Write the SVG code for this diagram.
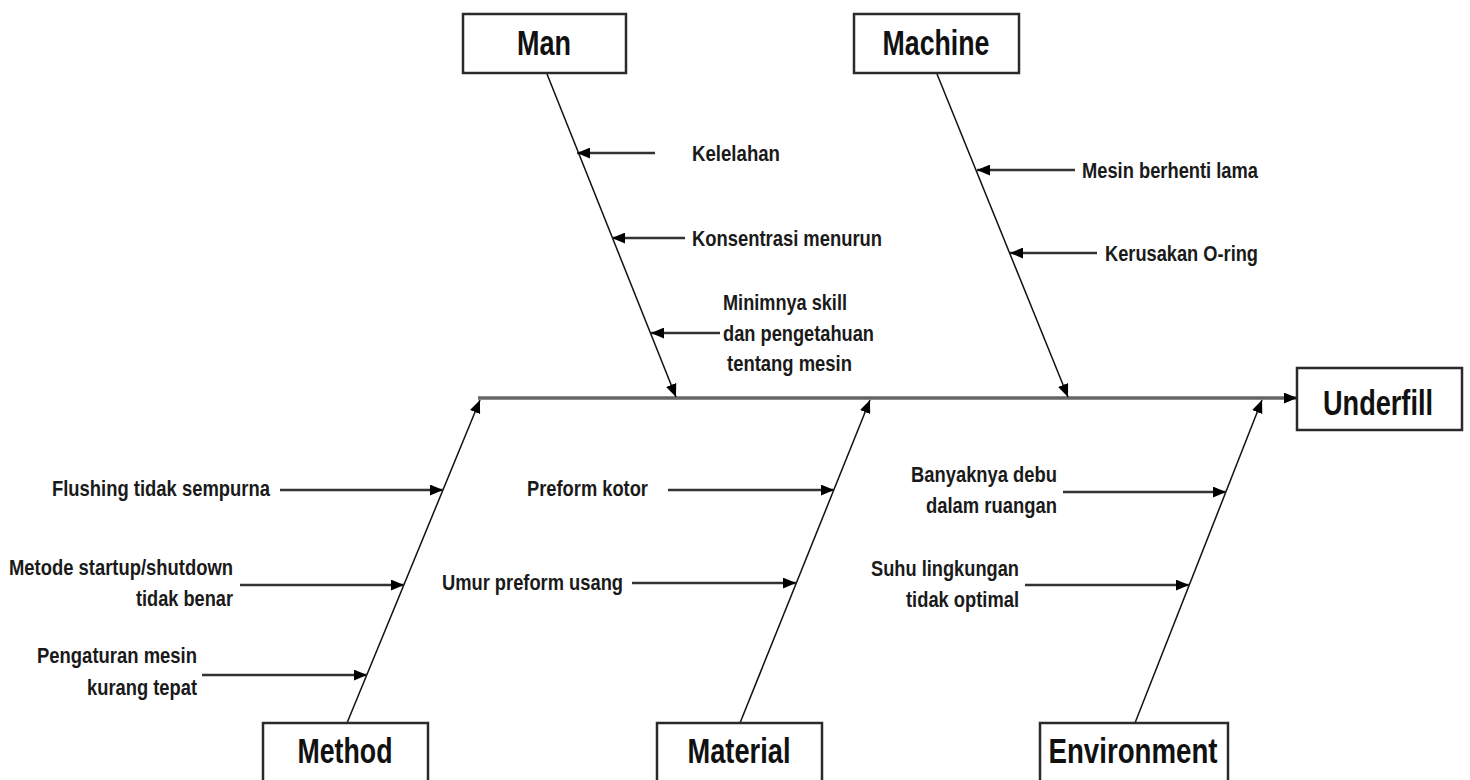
<svg xmlns="http://www.w3.org/2000/svg" width="1470" height="780" viewBox="0 0 1470 780">
<defs>
<marker id="ah" viewBox="0 0 12 10" refX="12" refY="5" markerWidth="13" markerHeight="11" markerUnits="userSpaceOnUse" orient="auto">
<path d="M0,0 L12,5 L0,10 z" fill="#000"/>
</marker>
<style>
.box{fill:#fff;stroke:#2a2a2a;stroke-width:2.5}
.title{font-family:"Liberation Sans Narrow","Arial Narrow","Liberation Sans",sans-serif;font-weight:bold;font-size:35px;fill:#111;text-anchor:middle}
.lbl{font-family:"Liberation Sans Narrow","Arial Narrow","Liberation Sans",sans-serif;font-weight:bold;font-size:22px;fill:#1a1a1a}
.end{text-anchor:end}
.bone{stroke:#111;stroke-width:1.5;fill:none;marker-end:url(#ah)}
.br{stroke:#333;stroke-width:2.6;fill:none;marker-end:url(#ah)}
.spine{stroke:#666;stroke-width:3.5;fill:none;marker-end:url(#ah)}
</style>
</defs>
<rect width="1470" height="780" fill="#fff"/>
<g id="connectors">
<line class="spine" x1="478" y1="398" x2="1297" y2="398"/>
<line class="bone" x1="547" y1="74" x2="676" y2="397"/>
<line class="bone" x1="937" y1="74" x2="1068" y2="397"/>
<line class="bone" x1="347" y1="723" x2="480" y2="400"/>
<line class="bone" x1="740" y1="723" x2="870" y2="400"/>
<line class="bone" x1="1135" y1="723" x2="1262" y2="400"/>
<line class="br" x1="655" y1="153" x2="577" y2="153"/>
<line class="br" x1="685" y1="238" x2="612" y2="238"/>
<line class="br" x1="720" y1="333" x2="651" y2="333"/>
<line class="br" x1="1075" y1="170" x2="977" y2="170"/>
<line class="br" x1="1097" y1="253" x2="1010" y2="253"/>
<line class="br" x1="280" y1="490" x2="443" y2="490"/>
<line class="br" x1="240" y1="585" x2="404" y2="585"/>
<line class="br" x1="202" y1="675" x2="367" y2="675"/>
<line class="br" x1="668" y1="490" x2="834" y2="490"/>
<line class="br" x1="632" y1="583" x2="796" y2="583"/>
<line class="br" x1="1063" y1="492" x2="1226" y2="492"/>
<line class="br" x1="1025" y1="585" x2="1189" y2="585"/>
</g>
<g id="man"><rect class="box" x="463" y="14" width="163" height="59"/><text class="title" x="544" y="55" textLength="54" lengthAdjust="spacingAndGlyphs">Man</text></g>
<g id="machine"><rect class="box" x="854" y="14" width="165" height="59"/><text class="title" x="936" y="55" textLength="107" lengthAdjust="spacingAndGlyphs">Machine</text></g>
<g id="underfill"><rect class="box" x="1297" y="368" width="165" height="62"/><text class="title" x="1378" y="415" textLength="110" lengthAdjust="spacingAndGlyphs">Underfill</text></g>
<g id="method"><rect class="box" x="263" y="723" width="165" height="70"/><text class="title" x="345" y="763" textLength="95" lengthAdjust="spacingAndGlyphs">Method</text></g>
<g id="material"><rect class="box" x="657" y="723" width="165" height="70"/><text class="title" x="739" y="763" textLength="103" lengthAdjust="spacingAndGlyphs">Material</text></g>
<g id="environment"><rect class="box" x="1040" y="723" width="188" height="70"/><text class="title" x="1133" y="763" textLength="169" lengthAdjust="spacingAndGlyphs">Environment</text></g>
<g id="man-causes">
<text class="lbl" x="692" y="161" textLength="88" lengthAdjust="spacingAndGlyphs">Kelelahan</text>
<text class="lbl" x="692" y="246" textLength="190" lengthAdjust="spacingAndGlyphs">Konsentrasi menurun</text>
<text class="lbl" x="723" y="310" textLength="124" lengthAdjust="spacingAndGlyphs">Minimnya skill</text>
<text class="lbl" x="723" y="341" textLength="151" lengthAdjust="spacingAndGlyphs">dan pengetahuan</text>
<text class="lbl" x="727" y="371" textLength="125" lengthAdjust="spacingAndGlyphs">tentang mesin</text>
</g>
<g id="machine-causes">
<text class="lbl" x="1082" y="178" textLength="176" lengthAdjust="spacingAndGlyphs">Mesin berhenti lama</text>
<text class="lbl" x="1105" y="261" textLength="153" lengthAdjust="spacingAndGlyphs">Kerusakan O-ring</text>
</g>
<g id="method-causes">
<text class="lbl" x="52" y="496" textLength="218" lengthAdjust="spacingAndGlyphs">Flushing tidak sempurna</text>
<text class="lbl end" x="233" y="575" textLength="224" lengthAdjust="spacingAndGlyphs">Metode startup/shutdown</text>
<text class="lbl end" x="233" y="606" textLength="97" lengthAdjust="spacingAndGlyphs">tidak benar</text>
<text class="lbl end" x="197" y="663" textLength="160" lengthAdjust="spacingAndGlyphs">Pengaturan mesin</text>
<text class="lbl end" x="197" y="695" textLength="110" lengthAdjust="spacingAndGlyphs">kurang tepat</text>
</g>
<g id="material-causes">
<text class="lbl" x="527" y="496" textLength="121" lengthAdjust="spacingAndGlyphs">Preform kotor</text>
<text class="lbl" x="442" y="590" textLength="181" lengthAdjust="spacingAndGlyphs">Umur preform usang</text>
</g>
<g id="environment-causes">
<text class="lbl end" x="1057" y="482" textLength="146" lengthAdjust="spacingAndGlyphs">Banyaknya debu</text>
<text class="lbl end" x="1057" y="513" textLength="131" lengthAdjust="spacingAndGlyphs">dalam ruangan</text>
<text class="lbl end" x="1019" y="576" textLength="148" lengthAdjust="spacingAndGlyphs">Suhu lingkungan</text>
<text class="lbl end" x="1019" y="607" textLength="113" lengthAdjust="spacingAndGlyphs">tidak optimal</text>
</g>
</svg>
